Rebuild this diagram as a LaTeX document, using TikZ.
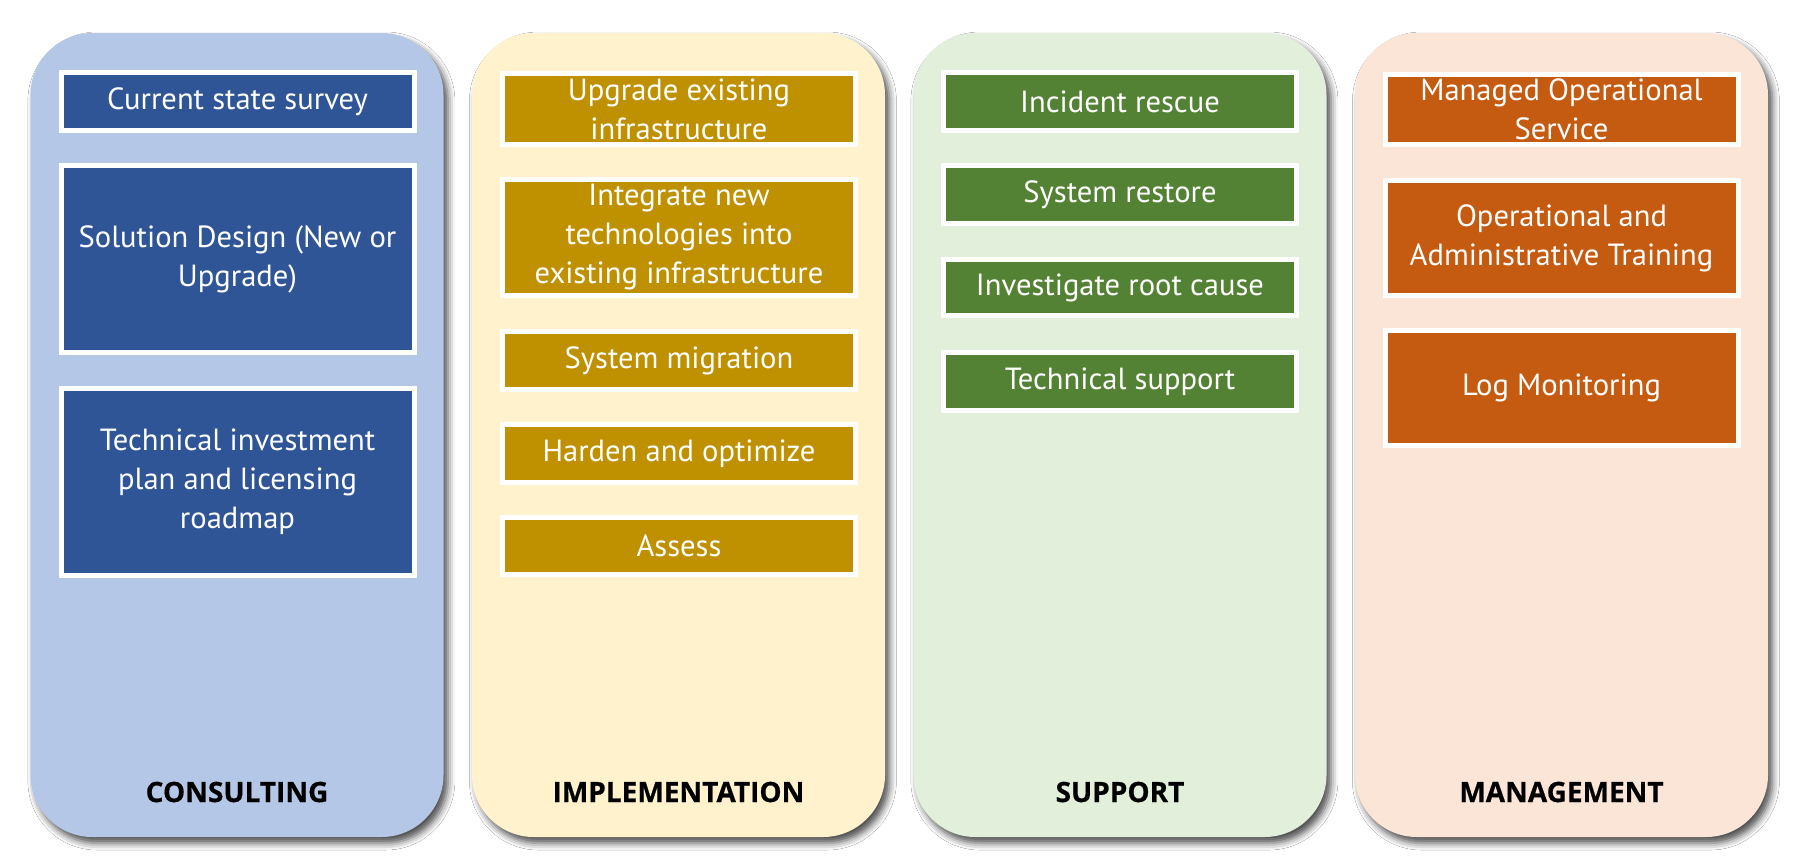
\documentclass[tikz,border=0pt]{standalone}
\usepackage{fontspec}
\setmainfont{PT Sans}
\newfontfamily\lblfont{Open Sans}[BoldFeatures={FakeBold=0.5}]
\usetikzlibrary{shadows.blur}
\definecolor{pblue}{HTML}{B4C7E7}
\definecolor{bblue}{HTML}{2F5597}
\definecolor{pyel}{HTML}{FFF2CC}
\definecolor{byel}{HTML}{BF9000}
\definecolor{pgrn}{HTML}{E2EFDA}
\definecolor{bgrn}{HTML}{548235}
\definecolor{porg}{HTML}{FBE5D6}
\definecolor{borg}{HTML}{C55A11}
\tikzset{
  panel/.style={rounded corners=31pt, minimum width=206.5pt, minimum height=402pt, inner sep=0pt,
    blur shadow={shadow xshift=2.2pt, shadow yshift=-3pt, shadow blur radius=3.5pt, shadow opacity=70}},
  itembox/.style={draw=white, line width=2.5pt, minimum width=176.5pt, inner sep=0pt, align=center,
    text=white, font=\fontsize{15.3}{19.5}\selectfont},
  lbl/.style={font=\lblfont\bfseries\fontsize{14}{16}\selectfont, text=black, inner sep=0pt}
}
\begin{document}
\begin{tikzpicture}[x=0.5pt,y=-0.5pt]
\useasboundingbox[fill=white] (0,0) rectangle (1795,864);
% panels
\node[panel, fill=pblue] (p1) at (237,435) {};
\node[panel, fill=pyel] (p2) at (678.5,435) {};
\node[panel, fill=pgrn] (p3) at (1120,435) {};
\node[panel, fill=porg] (p4) at (1561.5,435) {};
% labels
\node[lbl] (l1) at (237,792) {CONSULTING};
\node[lbl] (l2) at (678.5,792) {IMPLEMENTATION};
\node[lbl] (l3) at (1120,792) {SUPPORT};
\node[lbl] (l4) at (1561.5,792) {MANAGEMENT};
% consulting
\node[itembox, fill=bblue, minimum height=29pt] (c1) at (237.5,101.5) {Current state survey};
\node[itembox, fill=bblue, minimum height=93.5pt] (c2) at (237.5,259) {Solution Design (New or\\Upgrade)};
\node[itembox, fill=bblue, minimum height=93.5pt] (c3) at (237.5,482) {Technical investment\\plan and licensing\\roadmap};
% implementation
\node[itembox, fill=byel, minimum height=35.5pt] (i1) at (679,109) {Upgrade existing\\infrastructure};
\node[itembox, fill=byel, minimum height=58pt] (i2) at (679,237.5) {Integrate new\\technologies into\\existing infrastructure};
\node[itembox, fill=byel, minimum height=29pt] (i3) at (679,360.5) {System migration};
\node[itembox, fill=byel, minimum height=29pt] (i4) at (679,453.5) {Harden and optimize};
\node[itembox, fill=byel, minimum height=28.5pt] (i5) at (679,546) {Assess};
% support
\node[itembox, fill=bgrn, minimum height=29pt] (s1) at (1120,101.5) {Incident rescue};
\node[itembox, fill=bgrn, minimum height=29pt] (s2) at (1120,194.5) {System restore};
\node[itembox, fill=bgrn, minimum height=28pt] (s3) at (1120,287.5) {Investigate root cause};
\node[itembox, fill=bgrn, minimum height=29pt] (s4) at (1120,381.5) {Technical support};
% management
\node[itembox, fill=borg, minimum height=35pt] (m1) at (1561.5,109.5) {Managed Operational\\Service};
\node[itembox, fill=borg, minimum height=57.5pt] (m2) at (1561.5,238) {Operational and\\Administrative Training};
\node[itembox, fill=borg, minimum height=57.5pt] (m3) at (1561.5,388) {Log Monitoring};
\end{tikzpicture}
\end{document}
